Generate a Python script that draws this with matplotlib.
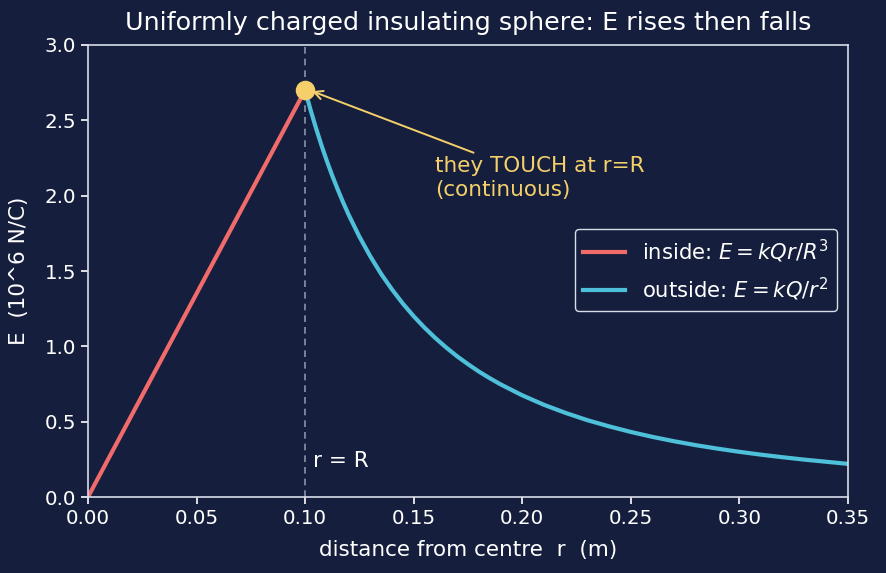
import matplotlib
matplotlib.use("Agg")
import matplotlib.pyplot as plt

# ----------------------------------------------------
# Data (E in 10^6 N/C, r in m)
# ----------------------------------------------------
R_SPHERE = 0.10
E_PEAK = 2.70

r_inside = [0.0, 0.10]
E_inside = [0.0, 2.70]

r_outside = [0.1000, 0.1025, 0.1050, 0.1075, 0.1100, 0.1125, 0.1150, 0.1175,
             0.120, 0.125, 0.130, 0.135, 0.140, 0.145, 0.150, 0.155, 0.160,
             0.165, 0.170, 0.175, 0.180, 0.185, 0.190, 0.200, 0.210, 0.220,
             0.230, 0.240, 0.250, 0.260, 0.270, 0.280, 0.290, 0.300, 0.310,
             0.320, 0.330, 0.340, 0.350]
E_outside = [2.700, 2.570, 2.449, 2.336, 2.231, 2.133, 2.042, 1.956,
             1.875, 1.728, 1.598, 1.481, 1.378, 1.284, 1.200, 1.124, 1.055,
             0.992, 0.934, 0.882, 0.833, 0.789, 0.748, 0.675, 0.612, 0.558,
             0.510, 0.469, 0.432, 0.399, 0.370, 0.344, 0.321, 0.300, 0.281,
             0.264, 0.248, 0.234, 0.220]

BG = "#151f3d"
FG = "#ffffff"
SPINE = "#d8dde8"
RED = "#f26b6b"
CYAN = "#4fc0d9"
GOLD = "#f5d06a"

fig = plt.figure(figsize=(8.86, 5.73), dpi=100, facecolor=BG)
ax = fig.add_axes([0.0993, 0.1326, 0.8577, 0.7889])
ax.set_facecolor(BG)

ax.plot(r_inside, E_inside, color=RED, lw=3, label=r"inside: $E = kQr/R^3$")
ax.plot(r_outside, E_outside, color=CYAN, lw=3, solid_joinstyle="round",
        label=r"outside: $E = kQ/r^2$")

# boundary of the sphere
ax.axvline(R_SPHERE, color="#8a93ad", lw=1.2, ls="--", dashes=(4, 3))
ax.text(R_SPHERE + 0.0035, 0.2, "r = R", color=FG, fontsize=15.5)

# touching point
ax.scatter([R_SPHERE], [E_PEAK], s=170, color=GOLD, zorder=5)
ax.annotate("they TOUCH at r=R\n(continuous)",
            xy=(R_SPHERE + 0.002, E_PEAK), xytext=(0.16, 2.0),
            color=GOLD, fontsize=15.5,
            arrowprops=dict(arrowstyle="->", color=GOLD, lw=1.4))

# ----------------------------------------------------
# Styling
# ----------------------------------------------------
ax.set_xlim(0, 0.35)
ax.set_ylim(0, 3.0)
ax.set_title("Uniformly charged insulating sphere: E rises then falls",
             color=FG, fontsize=18.3, pad=11)
ax.set_xlabel("distance from centre  r  (m)", color=FG, fontsize=15.5,
              labelpad=9)
ax.set_ylabel("E  (10^6 N/C)", color=FG, fontsize=15.5, labelpad=11)
ax.tick_params(colors=FG, labelsize=14.3, width=1.2, length=5)
for s in ax.spines.values():
    s.set_color(SPINE)
    s.set_linewidth(1.2)

leg = ax.legend(loc="center right", bbox_to_anchor=(1.0, 0.502),
                fontsize=15.2, facecolor=BG, edgecolor=SPINE, framealpha=1)
for t in leg.get_texts():
    t.set_color(FG)

fig.savefig("out.png", dpi=100, facecolor=BG)
